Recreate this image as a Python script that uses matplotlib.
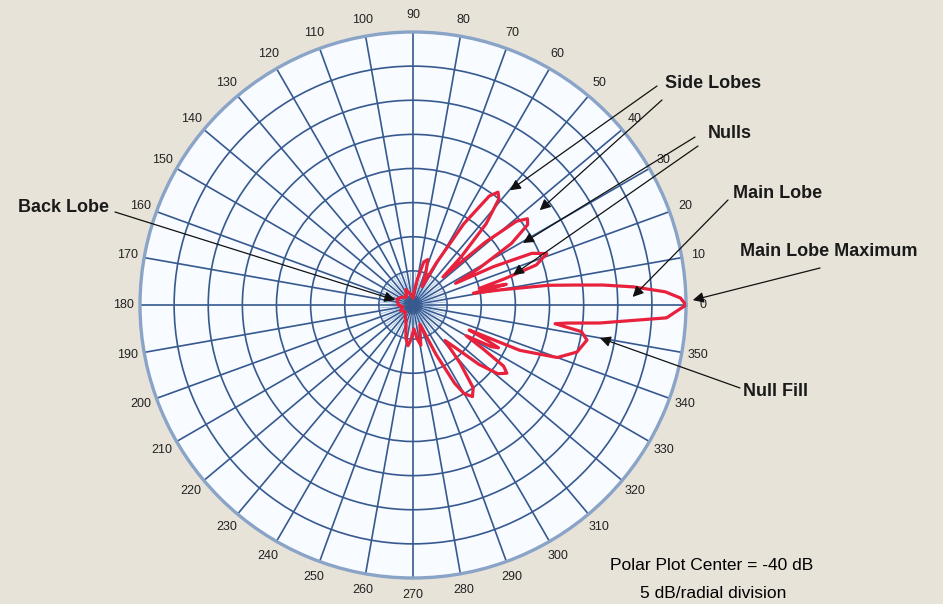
import numpy as np
import matplotlib
matplotlib.use('Agg')
import matplotlib.pyplot as plt

plt.rcParams['font.family'] = ['Liberation Sans Narrow', 'Liberation Sans', 'DejaVu Sans']

# antenna pattern: angle (deg) and level (dB)
angle_deg = [0, 1.5, 3, 4.7, 6, 7, 8.3, 9.8, 11, 12.5, 14, 16, 18, 21, 23.5, 25.5, 27,
             29, 32, 35, 37, 39, 41, 43, 45, 48, 51, 53, 55, 58, 61, 64, 68, 72, 76, 80,
             85, 90, 100, 115, 130, 145, 160, 175, 180, 190, 205, 220, 235, 250, 258,
             263, 267, 272, 277, 281, 285, 290, 295, 298, 300, 303, 306, 309, 312, 315,
             318, 321, 324, 326, 328, 330, 332, 333.4, 334.5, 336, 337, 340, 344, 348.6,
             351, 352.5, 353.3, 354.5, 357.1, 360]
level_db = [0, -0.8, -3, -7.6, -12, -16, -20, -27, -31, -26, -30, -26, -21, -19, -21, -27, -33,
            -29, -23, -19.5, -19, -20.5, -26, -34, -30, -24, -20, -19.3, -20.5, -26, -33, -37,
            -35, -33, -33.5, -36, -38, -39, -38.5, -37.5, -38.5, -38, -37.5, -37.8, -37.8,
            -38.5, -38, -38.5, -38, -37, -35, -34, -35, -36.5, -35, -34, -36, -37, -32, -27,
            -25, -24, -25, -29, -33, -31, -27, -24, -23, -24, -28, -31, -27, -26, -28, -31,
            -23, -17.5, -15, -14, -15, -19, -17.3, -12.5, -2.8, 0]

center_db = -40
step_db = 5
angle_ticks = list(range(0, 360, 10))

# callouts: label, label position (px), arrow tails (px), arrow targets (deg, dB)
labels = ['Side Lobes', 'Nulls', 'Main Lobe', 'Main Lobe Maximum', 'Back Lobe', 'Null Fill']
label_px = [(665, 83), (708, 134), (733, 193), (740, 251), (18, 208), (743, 392)]
arrow_tail_px = [[(657, 86), (662, 100)], [(695, 137), (698, 146)], [(728, 200)],
                 [(820, 268)], [(115, 212)], [(740, 388)]]
arrow_tip = [[(49.8, -18), (36.8, -16.8)], [(29.4, -21.5), (16.7, -24.7)], [(2.1, -7.8)],
             [(1.0, 1.0)], [(164.5, -37.3)], [(-10, -12.2)]]

W, H = 943, 604


def px(x, y):
    return (x / W, 1 - y / H)


bg = '#e8e3d9'
grid_c = '#36598f'
fig = plt.figure(figsize=(W / 100, H / 100), dpi=100, facecolor=bg)
cx, cy, R = 413, 305, 273
ax = fig.add_axes([(cx - R) / W, (H - cy - R) / H, 2 * R / W, 2 * R / H], projection='polar')
ax.set_facecolor('#f8fbff')
ax.set_theta_zero_location('E')
ax.set_rlim(0, -center_db)
ax.set_rticks(np.arange(step_db, -center_db + 1, step_db))
ax.set_yticklabels([])
ax.set_thetagrids(angle_ticks, [str(a) for a in angle_ticks])
ax.tick_params(axis='x', pad=1.5, labelsize=9, colors='#222222')
ax.grid(True, color=grid_c, lw=1.2)
ax.spines['polar'].set_color('#8aa4c8')
ax.spines['polar'].set_linewidth(2.4)

# thin extra spokes near the centre
for a in np.arange(5, 360, 10):
    ax.plot([np.deg2rad(a)] * 2, [1.5, step_db], color='#8fb0da', lw=0.5, zorder=2)

theta = np.deg2rad(angle_deg)
rr = np.array(level_db) - center_db
ax.plot(theta, rr, color='#e8213c', lw=2.3, zorder=5, solid_joinstyle='round')

for lab, lp, tails, tips in zip(labels, label_px, arrow_tail_px, arrow_tip):
    fig.text(*px(*lp), lab, fontsize=13, va='center', ha='left',
             fontweight='bold', color='#1a1a1a')
    for tail, (ta, tdb) in zip(tails, tips):
        ax.annotate('', xy=(np.deg2rad(ta), tdb - center_db), xycoords='data',
                    xytext=px(*tail), textcoords='figure fraction',
                    arrowprops=dict(arrowstyle='-|>', color='#111111', lw=0.9,
                                    mutation_scale=16, shrinkA=0, shrinkB=0),
                    annotation_clip=False, zorder=6)

fig.text(*px(712, 565), 'Polar Plot Center = -40 dB', fontsize=12.5, ha='center', va='center')
fig.text(*px(713, 593), '5 dB/radial division', fontsize=12.5, ha='center', va='center')

fig.savefig('out.png', dpi=100, facecolor=bg)
